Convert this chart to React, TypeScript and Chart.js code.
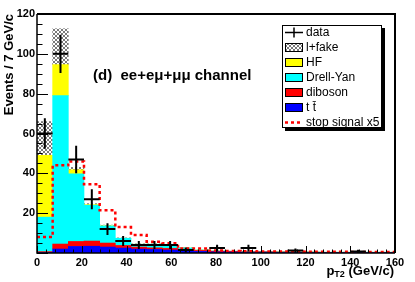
import React, { useEffect, useRef } from "react";
import { Chart, registerables } from "chart.js";

Chart.register(...registerables);

const FONT = "'Liberation Sans', Arial, Helvetica, sans-serif";

// ---- data (bins of 7 GeV/c) ----
const binWidth = 7;
const binCenters = [3.5, 10.5, 17.5, 24.5, 31.5, 38.5, 45.5, 52.5, 59.5, 66.5, 73.5, 80.5, 87.5, 94.5, 101.5, 108.5, 115.5, 122.5, 129.5, 136.5, 143.5, 150.5, 157.5];

const ttbar = [0.2, 2.0, 3.3, 3.4, 3.0, 2.5, 2.0, 1.8, 1.5, 1.0, 0.8, 0.6, 0.5, 0.4, 0.4, 0.3, 0.3, 0.3, 0.2, 0.2, 0.2, 0.2, 0.2];
const diboson = [0.5, 2.5, 2.5, 2.6, 2.0, 1.3, 1.0, 0.8, 0.8, 0.6, 0.5, 0.3, 0.3, 0.2, 0.2, 0.2, 0.1, 0.1, 0.1, 0.1, 0.1, 0.1, 0.1];
const drellYan = [17.3, 74.5, 34.0, 18.0, 8.6, 3.6, 1.4, 1.8, 1.7, 0.9, 0.2, 0.1, 0.1, 0.1, 0.1, 0.1, 0.1, 0.1, 0.1, 0.1, 0.1, 0.1, 0.1];
const heavyFlavour = [31.0, 15.6, 2.0, 0.3, 0.1, 0, 0, 0, 0, 0, 0, 0, 0, 0, 0, 0, 0, 0, 0, 0, 0, 0, 0];
const leptonFake = [17.0, 18.0, 1.2, 0.5, 0.3, 0.2, 0.2, 0.2, 0.2, 0.1, 0, 0, 0, 0, 0, 0, 0, 0, 0, 0, 0, 0, 0];

const dataCounts = [60, 100, 47, 27, 12, 6, 4, 4, 4, 1.5, 0, 2.5, 0, 2.5, 0, 0, 1.2, 0, 0, 0, 0.8, 0, 0];
const dataErrors = [7.6, 9.6, 6.9, 5.0, 3.0, 2.5, 2.0, 2.0, 2.0, 1.2, 0, 1.7, 0, 1.7, 0, 0, 1.1, 0, 0, 0, 0.8, 0, 0];

const stopSignalX5 = [8, 44, 46, 34.5, 21.5, 13, 9, 5.7, 4.9, 2.3, 2.2, 1.2, 1.0, 0.9, 0.8, 0.7, 0.7, 0.6, 0.6, 0.6, 0.5, 0.5, 0.5];

const xTickLabels = [0, 20, 40, 60, 80, 100, 120, 140, 160];
const yTickLabels = [20, 40, 60, 80, 100, 120];

function makeHatch(): CanvasPattern | string {
  const c = document.createElement("canvas");
  c.width = 4;
  c.height = 4;
  const g = c.getContext("2d");
  if (!g) return "#b0b0b0";
  g.fillStyle = "#ffffff";
  g.fillRect(0, 0, 4, 4);
  g.fillStyle = "#7a7a7a";
  const px = [[0, 0], [1, 1], [2, 2], [3, 3], [0, 3], [1, 2], [2, 1], [3, 0]];
  px.forEach(([a, b]) => g.fillRect(a, b, 1, 1));
  return g.createPattern(c, "repeat") || "#b0b0b0";
}

export default function App() {
  const ref = useRef<HTMLCanvasElement | null>(null);

  useEffect(() => {
    document.body.style.margin = "0";
    document.body.style.overflow = "hidden";
    const canvas = ref.current;
    if (!canvas) return;
    const hatch = makeHatch();

    const toPts = (arr: number[]) => binCenters.map((c, i) => ({ x: c, y: arr[i] }));

    const crossPts: { x: number; y: number | null }[] = [];
    binCenters.forEach((c, i) => {
      const v = dataCounts[i];
      if (v <= 0) return;
      const e = dataErrors[i];
      crossPts.push({ x: c - binWidth / 2, y: v }, { x: c + binWidth / 2, y: v }, { x: c, y: null });
      crossPts.push({ x: c, y: Math.max(0, v - e) }, { x: c, y: v + e }, { x: c, y: null });
    });

    const sigPts = binCenters.map((c, i) => ({ x: c - binWidth / 2, y: stopSignalX5[i] }));
    sigPts.push({ x: binCenters[binCenters.length - 1] + binWidth / 2, y: stopSignalX5[stopSignalX5.length - 1] });

    const barCommon = {
      type: "bar" as const,
      xAxisID: "x",
      yAxisID: "y",
      barPercentage: 1,
      categoryPercentage: 1,
      borderWidth: 0,
      order: 2,
    };

    const legendEntries = [
      { label: "data", kind: "cross" },
      { label: "l+fake", kind: "box", color: hatch },
      { label: "HF", kind: "box", color: "#ffff00" },
      { label: "Drell-Yan", kind: "box", color: "#00ffff" },
      { label: "diboson", kind: "box", color: "#ff0000" },
      { label: "t t\u0304", kind: "box", color: "#0000ff" },
      { label: "stop signal x5", kind: "dash" },
    ];

    const decor = {
      id: "rootDecor",
      afterDraw(chart: any) {
        const ctx: CanvasRenderingContext2D = chart.ctx;
        const a = chart.chartArea;
        const xs = chart.scales.x;
        const ys = chart.scales.y;
        ctx.save();
        // frame
        ctx.strokeStyle = "#000";
        ctx.lineWidth = 2;
        ctx.beginPath();
        ctx.moveTo(a.left, a.top);
        ctx.lineTo(a.right, a.top);
        ctx.lineTo(a.right, a.bottom);
        ctx.stroke();
        ctx.lineWidth = 1.5;
        ctx.beginPath();
        ctx.moveTo(a.left, a.top);
        ctx.lineTo(a.left, a.bottom);
        ctx.lineTo(a.right, a.bottom);
        ctx.stroke();
        // ticks
        ctx.lineWidth = 1;
        ctx.beginPath();
        for (let v = 0; v <= 160; v += 4) {
          const px = Math.round(xs.getPixelForValue(v)) + 0.5;
          const len = v % 20 === 0 ? 7 : 3.5;
          ctx.moveTo(px, a.bottom);
          ctx.lineTo(px, a.bottom - len);
        }
        for (let v = 0; v <= 120; v += 5) {
          const py = Math.round(ys.getPixelForValue(v)) + 0.5;
          const len = v % 20 === 0 ? 11 : 5.5;
          ctx.moveTo(a.left, py);
          ctx.lineTo(a.left + len, py);
        }
        ctx.stroke();

        // header text
        ctx.fillStyle = "#000";
        ctx.font = `bold 15px ${FONT}`;
        ctx.textAlign = "left";
        ctx.textBaseline = "alphabetic";
        ctx.fillText("(d)  ee+e\u03bc+\u03bc\u03bc channel", a.left + 56, a.top + 65.5);

        // x-axis title with subscript
        const mainFont = `bold 13px ${FONT}`;
        const subFont = `bold 9px ${FONT}`;
        ctx.font = mainFont;
        const wp = ctx.measureText("p").width;
        const wRest = ctx.measureText(" (GeV/c)").width;
        ctx.font = subFont;
        const wSub = ctx.measureText("T2").width;
        const startX = a.right - 1 - (wp + wSub + wRest);
        const base = a.bottom + 22;
        ctx.font = mainFont;
        ctx.fillText("p", startX, base);
        ctx.font = subFont;
        ctx.fillText("T2", startX + wp, base + 2);
        ctx.font = mainFont;
        ctx.fillText(" (GeV/c)", startX + wp + wSub, base);

        // legend
        const lx = a.right - 113;
        const ly = a.top + 11;
        const lw = 100;
        const lh = 103;
        ctx.fillStyle = "#000";
        ctx.fillRect(lx + 3, ly + 3, lw, lh);
        ctx.fillStyle = "#fff";
        ctx.fillRect(lx, ly, lw, lh);
        ctx.strokeStyle = "#000";
        ctx.lineWidth = 1;
        ctx.strokeRect(lx + 0.5, ly + 0.5, lw - 1, lh - 1);
        ctx.font = `12px ${FONT}`;
        ctx.textBaseline = "middle";
        legendEntries.forEach((e, i) => {
          const cy = ly + 7.5 + i * 15;
          const sx = lx + 3;
          const sw = 18;
          if (e.kind === "cross") {
            ctx.strokeStyle = "#000";
            ctx.lineWidth = 1.5;
            ctx.beginPath();
            ctx.moveTo(sx, cy);
            ctx.lineTo(sx + sw, cy);
            ctx.moveTo(sx + sw / 2, cy - 5);
            ctx.lineTo(sx + sw / 2, cy + 5);
            ctx.stroke();
          } else if (e.kind === "dash") {
            ctx.strokeStyle = "#ff0000";
            ctx.lineWidth = 2.5;
            ctx.setLineDash([3, 3]);
            ctx.beginPath();
            ctx.moveTo(sx, cy);
            ctx.lineTo(sx + sw, cy);
            ctx.stroke();
            ctx.setLineDash([]);
          } else {
            ctx.fillStyle = e.color as any;
            ctx.fillRect(sx, cy - 4.5, sw, 9);
            ctx.strokeStyle = "#000";
            ctx.lineWidth = 1;
            ctx.strokeRect(sx + 0.5, cy - 4.5 + 0.5, sw - 1, 8);
          }
          ctx.fillStyle = "#000";
          ctx.fillText(e.label, sx + sw + 3, cy + 0.5);
        });
        ctx.restore();
      },
    };

    const tickFont = { family: FONT, size: 11, weight: "bold" as const };

    const chart = new Chart(canvas, {
      type: "bar",
      data: {
        datasets: [
          { ...barCommon, label: "t t\u0304", data: toPts(ttbar), backgroundColor: "#0000ff" },
          { ...barCommon, label: "diboson", data: toPts(diboson), backgroundColor: "#ff0000" },
          { ...barCommon, label: "Drell-Yan", data: toPts(drellYan), backgroundColor: "#00ffff" },
          { ...barCommon, label: "HF", data: toPts(heavyFlavour), backgroundColor: "#ffff00" },
          { ...barCommon, label: "l+fake", data: toPts(leptonFake), backgroundColor: hatch as any },
          {
            type: "line",
            label: "stop signal x5",
            data: sigPts as any,
            xAxisID: "x",
            yAxisID: "y2",
            borderColor: "#ff0000",
            borderWidth: 2.5,
            borderDash: [3, 3],
            stepped: "before",
            pointRadius: 0,
            fill: false,
            order: 1,
          } as any,
          {
            type: "line",
            label: "data",
            data: crossPts as any,
            xAxisID: "x",
            yAxisID: "y2",
            borderColor: "#000000",
            borderWidth: 2,
            pointRadius: 0,
            spanGaps: false,
            fill: false,
            tension: 0,
            order: 0,
          } as any,
        ],
      },
      options: {
        animation: false,
        responsive: false,
        devicePixelRatio: 1,
        layout: { padding: { top: 14, right: 20, left: 0, bottom: 0 } },
        plugins: { legend: { display: false }, tooltip: { enabled: false } },
        scales: {
          x: {
            type: "linear",
            min: 0,
            max: 160,
            stacked: true,
            offset: false,
            grid: { display: false, drawTicks: false },
            border: { display: false },
            ticks: { font: tickFont, color: "#000", padding: 3, autoSkip: false, maxRotation: 0 },
            afterBuildTicks: (s: any) => {
              s.ticks = xTickLabels.map((v) => ({ value: v }));
            },
            afterFit: (s: any) => {
              s.height = 29;
            },
          },
          y: {
            type: "linear",
            min: 0,
            max: 120,
            stacked: true,
            grid: { display: false, drawTicks: false },
            border: { display: false },
            ticks: { font: tickFont, color: "#000", padding: 2 },
            afterBuildTicks: (s: any) => {
              s.ticks = yTickLabels.map((v) => ({ value: v }));
            },
            afterFit: (s: any) => {
              s.width = 37;
            },
            title: {
              display: true,
              text: "Events / 7 GeV/c",
              align: "end",
              color: "#000",
              font: { family: FONT, size: 13, weight: "bold" },
              padding: { top: 2, bottom: 0 },
            },
          },
          y2: {
            type: "linear",
            min: 0,
            max: 120,
            display: false,
            stacked: false,
          },
        },
      },
      plugins: [decor],
    } as any);

    return () => chart.destroy();
  }, []);

  return (
    <div style={{ width: 415, height: 282 }}>
      <canvas ref={ref} width={415} height={282} style={{ width: 415, height: 282, display: "block" }} />
    </div>
  );
}
